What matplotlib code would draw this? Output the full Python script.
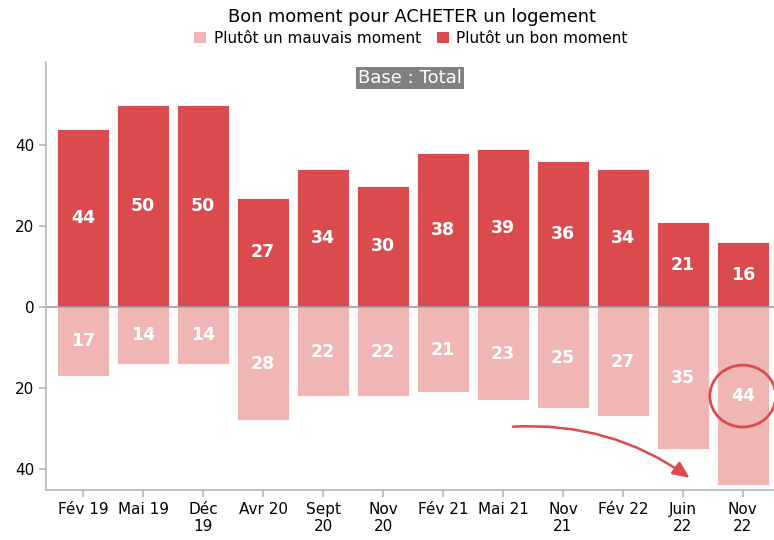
import numpy as np
import matplotlib.pyplot as plt
from matplotlib.patches import Ellipse, Patch

# Data
periods = ['Fév 19', 'Mai 19', 'Déc\n19', 'Avr 20', 'Sept\n20', 'Nov\n20',
           'Fév 21', 'Mai 21', 'Nov\n21', 'Fév 22', 'Juin\n22', 'Nov\n22']
bon_moment = [44, 50, 50, 27, 34, 30, 38, 39, 36, 34, 21, 16]
mauvais_moment = [17, 14, 14, 28, 22, 22, 21, 23, 25, 27, 35, 44]

dark_red = '#DB4B4D'
light_red = '#F0B5B5'
axis_gray = '#B5B9BE'

fig = plt.figure(figsize=(7.74, 5.40), dpi=100)
ax = fig.add_axes([0.0594, 0.0926, 0.9406, 0.7924])

x = np.arange(len(periods))
ax.bar(x, bon_moment, width=0.86, color=dark_red, edgecolor='white', linewidth=0.6)
ax.bar(x, [-v for v in mauvais_moment], width=0.86, color=light_red,
       edgecolor='white', linewidth=0.6)

# value labels in the middle of bars
for xi, v in zip(x, bon_moment):
    ax.text(xi, v / 2, str(v), ha='center', va='center', color='white',
            fontsize=12.5, fontweight='bold')
for xi, v in zip(x, mauvais_moment):
    ax.text(xi, -v / 2, str(v), ha='center', va='center', color='white',
            fontsize=12.5, fontweight='bold')

ax.axhline(0, color='#9A9EA3', linewidth=1.2)

ax.set_xlim(-0.62, 11.52)
ax.set_ylim(-45.2, 60.5)
ax.set_xticks(x)
ax.set_xticklabels(periods, fontsize=11)
ax.set_yticks([-40, -20, 0, 20, 40])
ax.set_yticklabels(['40', '20', '0', '20', '40'], fontsize=11)

for s in ['top', 'right']:
    ax.spines[s].set_visible(False)
for s in ['left', 'bottom']:
    ax.spines[s].set_color(axis_gray)
    ax.spines[s].set_linewidth(1.2)
ax.tick_params(colors=axis_gray, labelcolor='black', length=5, width=1.2)

# base label
ax.text(0.5, 0.963, 'Base : Total', transform=ax.transAxes, ha='center', va='center',
        color='white', fontsize=13,
        bbox=dict(boxstyle='square,pad=0.12', facecolor='#808080', edgecolor='none'))

# highlight last value
ax.add_patch(Ellipse((11, -22), 1.1, 15.3, fill=False, edgecolor=dark_red,
                     linewidth=2, clip_on=False))
ax.annotate('', xy=(10.15, -42.6), xytext=(7.12, -29.6),
            arrowprops=dict(arrowstyle='-|>,head_length=1.0,head_width=0.45',
                            color=dark_red, linewidth=1.8,
                            connectionstyle='arc3,rad=-0.18'))

fig.text(0.532, 0.968, 'Bon moment pour ACHETER un logement', ha='center', va='center',
         fontsize=12.75)
handles = [Patch(facecolor=light_red, label='Plutôt un mauvais moment'),
           Patch(facecolor=dark_red, label='Plutôt un bon moment')]
fig.legend(handles=handles, loc='center', bbox_to_anchor=(0.531, 0.929), ncol=2,
           frameon=False, fontsize=11, handlelength=0.8, handleheight=0.8,
           handletextpad=0.5, columnspacing=1.0)

plt.savefig('out.png', dpi=100)
